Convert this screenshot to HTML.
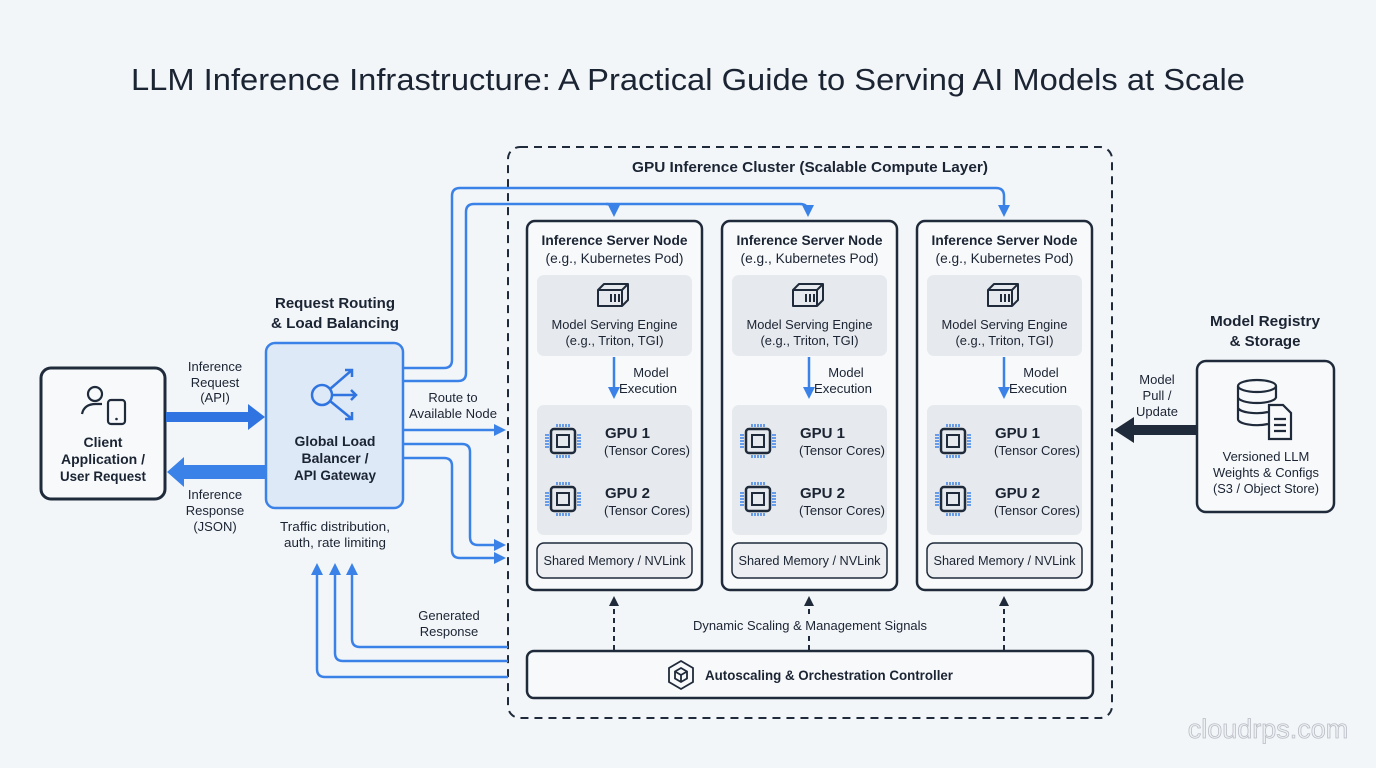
<!DOCTYPE html>
<html><head><meta charset="utf-8"><style>
html,body{margin:0;padding:0;background:#f3f6f9;}
svg{display:block;}
text{font-family:"Liberation Sans",sans-serif;fill:#1b2433;}
.b{font-weight:bold;}
</style></head><body>
<svg width="1376" height="768" viewBox="0 0 1376 768" xmlns="http://www.w3.org/2000/svg">
<defs>
<marker id="ab" markerWidth="12" markerHeight="12" refX="9" refY="6" orient="auto" markerUnits="userSpaceOnUse"><path d="M0,0 L12,6 L0,12 z" fill="#3b82e8"/></marker>
<marker id="ad" markerWidth="10" markerHeight="10" refX="8" refY="5" orient="auto" markerUnits="userSpaceOnUse"><path d="M0,0 L10,5 L0,10 z" fill="#1f2a3a"/></marker>
<g id="chip">
<rect x="-12" y="-12" width="24" height="24" rx="3" fill="none" stroke="#1f2a3a" stroke-width="2.5"/>
<rect x="-6" y="-6" width="12" height="12" fill="none" stroke="#1f2a3a" stroke-width="2"/>
<g stroke="#3b82e8" stroke-width="1.5">
<path d="M-6,-14v-3M-3,-14v-3M0,-14v-3M3,-14v-3M6,-14v-3"/>
<path d="M-6,14v3M-3,14v3M0,14v3M3,14v3M6,14v3"/>
<path d="M-14,-6h-4M-14,-3h-4M-14,0h-4M-14,3h-4M-14,6h-4"/>
<path d="M14,-6h4M14,-3h4M14,0h4M14,3h4M14,6h4"/>
</g></g>
<g id="node">
<rect x="527" y="221" width="175" height="369" rx="8" fill="#f7f9fb" stroke="#1f2a3a" stroke-width="2.5"/>
<text x="614.5" y="245" text-anchor="middle" font-size="14" class="b" textLength="146" lengthAdjust="spacingAndGlyphs">Inference Server Node</text>
<text x="614.5" y="263" text-anchor="middle" font-size="14" textLength="138" lengthAdjust="spacingAndGlyphs">(e.g., Kubernetes Pod)</text>
<rect x="537" y="275" width="155" height="81" rx="7" fill="#e6e9ed"/>
<g fill="none" stroke="#1f2a3a" stroke-width="2" stroke-linejoin="round">
<path d="M598,290 l6,-6 h24 l-6,6 z M598,290 v16 h24 v-16 M622,306 l6,-6 v-16"/>
<path d="M611,294v8M615,294v8M619,294v8"/>
</g>
<text x="614.5" y="329" text-anchor="middle" font-size="13" textLength="126" lengthAdjust="spacingAndGlyphs">Model Serving Engine</text>
<text x="614.5" y="345" text-anchor="middle" font-size="13" textLength="98" lengthAdjust="spacingAndGlyphs">(e.g., Triton, TGI)</text>
<line x1="614" y1="357" x2="614" y2="396" stroke="#3b82e8" stroke-width="2.5" marker-end="url(#ab)"/>
<text x="651" y="377" text-anchor="middle" font-size="13">Model</text>
<text x="648" y="393" text-anchor="middle" font-size="13" textLength="58" lengthAdjust="spacingAndGlyphs">Execution</text>
<rect x="537" y="405" width="155" height="130" rx="7" fill="#e6e9ed"/>
<use href="#chip" x="563" y="441"/>
<use href="#chip" x="563" y="499"/>
<text x="605" y="438" font-size="15" class="b">GPU 1</text>
<text x="604" y="455" font-size="13" textLength="86" lengthAdjust="spacingAndGlyphs">(Tensor Cores)</text>
<text x="605" y="498" font-size="15" class="b">GPU 2</text>
<text x="604" y="515" font-size="13" textLength="86" lengthAdjust="spacingAndGlyphs">(Tensor Cores)</text>
<rect x="537" y="543" width="155" height="35" rx="7" fill="#eceef1" stroke="#1f2a3a" stroke-width="1.5"/>
<text x="614.5" y="565" text-anchor="middle" font-size="12.5" textLength="142" lengthAdjust="spacingAndGlyphs">Shared Memory / NVLink</text>
</g>
</defs>

<text x="688" y="90" text-anchor="middle" font-size="31" textLength="1114" lengthAdjust="spacingAndGlyphs">LLM Inference Infrastructure: A Practical Guide to Serving AI Models at Scale</text>

<rect x="508" y="147" width="604" height="571" rx="12" fill="none" stroke="#1f2a3a" stroke-width="2" stroke-dasharray="8,6"/>
<text x="810" y="172" text-anchor="middle" font-size="15" class="b" textLength="356" lengthAdjust="spacingAndGlyphs">GPU Inference Cluster (Scalable Compute Layer)</text>

<use href="#node"/>
<use href="#node" x="195"/>
<use href="#node" x="390"/>

<g fill="none" stroke="#3b82e8" stroke-width="2.5">
<path d="M404,368 H444 Q452,368 452,360 V196 Q452,188 460,188 H996 Q1004,188 1004,196 V214" marker-end="url(#ab)"/>
<path d="M404,381 H458 Q466,381 466,373 V212 Q466,204 474,204 H800 Q808,204 808,212 V214" marker-end="url(#ab)"/>
<path d="M606,204 Q614,204 614,212 V214" marker-end="url(#ab)"/>
<path d="M404,430 H503" marker-end="url(#ab)"/>
<path d="M404,444 H462 Q470,444 470,452 V537 Q470,545 478,545 H503" marker-end="url(#ab)"/>
<path d="M404,458 H444 Q452,458 452,466 V550 Q452,558 460,558 H503" marker-end="url(#ab)"/>
<path d="M508,647 H360 Q352,647 352,639 V566" marker-end="url(#ab)"/>
<path d="M508,661 H343 Q335,661 335,653 V566" marker-end="url(#ab)"/>
<path d="M508,677 H325 Q317,677 317,669 V566" marker-end="url(#ab)"/>
</g>

<rect x="41" y="368" width="124" height="131" rx="10" fill="#f7f9fb" stroke="#1f2a3a" stroke-width="3"/>
<g fill="none" stroke="#1f2a3a" stroke-width="2.2">
<circle cx="95" cy="394" r="7"/>
<path d="M82,414 q2,-10 14,-10 h6"/>
<rect x="108" y="400" width="17" height="24" rx="3"/>
</g>
<circle cx="116.5" cy="419" r="1.3" fill="#1f2a3a"/>
<text x="103" y="447" text-anchor="middle" font-size="14" class="b">Client</text>
<text x="103" y="464" text-anchor="middle" font-size="14" class="b" textLength="84" lengthAdjust="spacingAndGlyphs">Application /</text>
<text x="103" y="481" text-anchor="middle" font-size="14" class="b" textLength="86" lengthAdjust="spacingAndGlyphs">User Request</text>

<path d="M166,412 H248 V404 L265,417 L248,430 V422 H166 z" fill="#2f74e0"/>
<path d="M265,465 H184 V457 L167,472 L184,487 V479 H265 z" fill="#3b82e8"/>
<text x="215" y="371" text-anchor="middle" font-size="13">Inference</text>
<text x="215" y="387" text-anchor="middle" font-size="13">Request</text>
<text x="215" y="402" text-anchor="middle" font-size="13">(API)</text>
<text x="215" y="499" text-anchor="middle" font-size="13">Inference</text>
<text x="215" y="515" text-anchor="middle" font-size="13">Response</text>
<text x="215" y="531" text-anchor="middle" font-size="13">(JSON)</text>

<text x="335" y="308" text-anchor="middle" font-size="15" class="b" textLength="120" lengthAdjust="spacingAndGlyphs">Request Routing</text>
<text x="335" y="328" text-anchor="middle" font-size="15" class="b" textLength="128" lengthAdjust="spacingAndGlyphs">&amp; Load Balancing</text>
<rect x="266" y="343" width="137" height="165" rx="9" fill="#dde9f7" stroke="#3b82e8" stroke-width="2.5"/>
<g fill="none" stroke="#2f74e0" stroke-width="2.5">
<circle cx="322" cy="395" r="10"/>
<path d="M330,389 L352,370 M345,370 h7 v7"/>
<path d="M332,395 H356 M351,390 l5,5 l-5,5"/>
<path d="M330,401 L352,419 M352,412 v7 h-7"/>
</g>
<text x="335" y="446" text-anchor="middle" font-size="14" class="b">Global Load</text>
<text x="335" y="463" text-anchor="middle" font-size="14" class="b">Balancer /</text>
<text x="335" y="480" text-anchor="middle" font-size="14" class="b" textLength="82" lengthAdjust="spacingAndGlyphs">API Gateway</text>
<text x="335" y="531" text-anchor="middle" font-size="13" textLength="110" lengthAdjust="spacingAndGlyphs">Traffic distribution,</text>
<text x="335" y="547" text-anchor="middle" font-size="13" textLength="102" lengthAdjust="spacingAndGlyphs">auth, rate limiting</text>
<text x="453" y="402" text-anchor="middle" font-size="13">Route to</text>
<text x="453" y="418" text-anchor="middle" font-size="13" textLength="88" lengthAdjust="spacingAndGlyphs">Available Node</text>
<text x="449" y="620" text-anchor="middle" font-size="13">Generated</text>
<text x="449" y="636" text-anchor="middle" font-size="13">Response</text>

<g stroke="#1f2a3a" stroke-width="2" stroke-dasharray="5,4">
<line x1="614" y1="650" x2="614" y2="598" marker-end="url(#ad)"/>
<line x1="809" y1="650" x2="809" y2="598" marker-end="url(#ad)"/>
<line x1="1004" y1="650" x2="1004" y2="598" marker-end="url(#ad)"/>
</g>
<rect x="692" y="614" width="236" height="18" fill="#f3f6f9"/>
<text x="810" y="630" text-anchor="middle" font-size="13" textLength="234" lengthAdjust="spacingAndGlyphs">Dynamic Scaling &amp; Management Signals</text>

<rect x="527" y="651" width="566" height="47" rx="7" fill="#f7f9fb" stroke="#1f2a3a" stroke-width="2.5"/>
<g fill="none" stroke="#1f2a3a" stroke-width="1.8">
<path d="M681,661 l12,7 v14 l-12,7 l-12,-7 v-14 z"/>
<path d="M681,668 l6,3.5 v7 l-6,3.5 l-6,-3.5 v-7 z M675,671.5 l6,3.5 l6,-3.5 M681,675 v7"/>
</g>
<text x="705" y="680" font-size="14" class="b" textLength="248" lengthAdjust="spacingAndGlyphs">Autoscaling &amp; Orchestration Controller</text>

<text x="1265" y="326" text-anchor="middle" font-size="15" class="b" textLength="110" lengthAdjust="spacingAndGlyphs">Model Registry</text>
<text x="1265" y="346" text-anchor="middle" font-size="15" class="b">&amp; Storage</text>
<rect x="1197" y="361" width="137" height="151" rx="9" fill="#f7f9fb" stroke="#1f2a3a" stroke-width="2.5"/>
<g fill="none" stroke="#1f2a3a" stroke-width="2.2">
<ellipse cx="1257" cy="386" rx="19" ry="6"/>
<path d="M1238,386 v33 a19,6 0 0 0 30,5 M1238,397 a19,6 0 0 0 38,0 M1238,408 a19,6 0 0 0 30,4 M1276,386 v12"/>
<path d="M1269,405 h14 l8,8 v26 h-22 z M1274,419 h12 M1274,425 h12 M1274,431 h12"/>
</g>
<text x="1266" y="461" text-anchor="middle" font-size="13">Versioned LLM</text>
<text x="1266" y="477" text-anchor="middle" font-size="13" textLength="106" lengthAdjust="spacingAndGlyphs">Weights &amp; Configs</text>
<text x="1266" y="493" text-anchor="middle" font-size="13" textLength="106" lengthAdjust="spacingAndGlyphs">(S3 / Object Store)</text>
<path d="M1197,425 H1134 V417 L1114,430 L1134,443 V435 H1197 z" fill="#1f2a3a"/>
<text x="1157" y="384" text-anchor="middle" font-size="13">Model</text>
<text x="1157" y="400" text-anchor="middle" font-size="13">Pull /</text>
<text x="1157" y="416" text-anchor="middle" font-size="13">Update</text>

<text x="1268" y="738" text-anchor="middle" font-size="27" style="fill:#eef1f4;stroke:#b9bec5;stroke-width:0.8">cloudrps.com</text>
</svg>
</body></html>
